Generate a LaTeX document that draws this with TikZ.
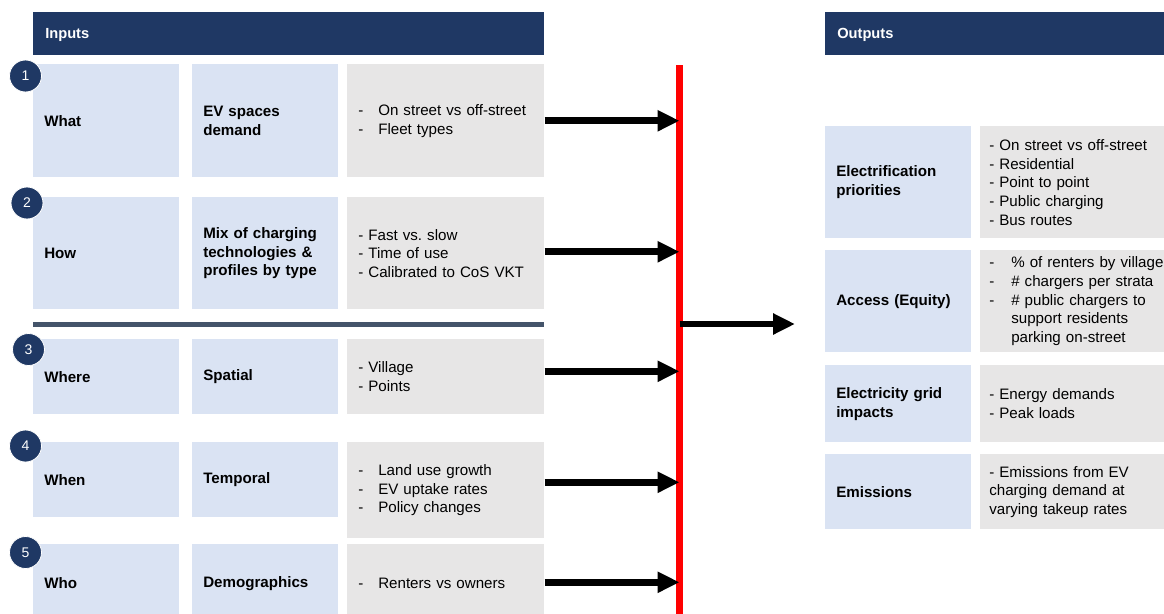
\documentclass[tikz,border=0pt]{standalone}
\usepackage{fontspec}
\setmainfont{Liberation Sans}
\usetikzlibrary{arrows.meta,calc}

\definecolor{navy}{RGB}{31,56,100}
\definecolor{paleblue}{RGB}{218,227,243}
\definecolor{palegray}{RGB}{231,230,230}
\definecolor{slate}{RGB}{68,84,106}

\newcommand{\tabdash}[1][15pt]{\makebox[#1][l]{-}}

\tikzset{
  cell/.style={anchor=north west, inner xsep=8.25pt, inner ysep=0pt, align=left,
    font=\fontsize{11.35}{14}\selectfont},
  bluecell/.style={cell, fill=paleblue, text width=93pt, font=\fontsize{11.35}{14}\selectfont\bfseries},
  graycell/.style={cell, fill=palegray, text width=131.25pt},
  outcell/.style={cell, fill=palegray, inner xsep=6.75pt, text width=135pt},
  header/.style={anchor=north west, fill=navy, text=white, inner xsep=9pt, inner ysep=0pt,
    minimum height=32.25pt, text depth=0pt, align=left, font=\fontsize{11}{13}\selectfont\bfseries},
  badge/.style={circle, fill=navy, draw=white, line width=0.6pt, text=white,
    minimum size=24pt, inner sep=0pt, font=\fontsize{10.5}{12}\selectfont},
  feed/.style={line width=5pt, -{Triangle[length=16.5pt,width=15pt]}},
  redbar/.style={draw=red, line width=5pt},
  sepbar/.style={draw=slate, line width=4pt}
}

\begin{document}
\begin{tikzpicture}[x=0.75pt,y=0.75pt,yscale=-1,xscale=1]
\useasboundingbox (0,0) rectangle (1164,614);
\clip (0,0) rectangle (1164,614);

% Headers
\node[header, text width=365.25pt] (inhead) at (33,12) {Inputs};
\node[header, text width=260pt] (outhead) at (825,12) {Outputs};

% Row 1
\node[bluecell, minimum height=84.75pt] (what) at (33,64) {What};
\node[bluecell, minimum height=84.75pt] (whatTopic) at (192,64) {EV spaces\\demand};
\node[graycell, minimum height=84.75pt] (whatList) at (347,64) {\tabdash On street vs off-street\\\tabdash Fleet types};
% Row 2
\node[bluecell, minimum height=84pt] (how) at (33,197) {How};
\node[bluecell, minimum height=84pt] (howTopic) at (192,197) {Mix of charging\\technologies \&\\profiles by type};
\node[graycell, minimum height=84pt] (howList) at (347,197) {- Fast vs.\ slow\\- Time of use\\- Calibrated to CoS VKT};

%Separator bar
\draw[sepbar] (33,324.5) -- (544,324.5);

% Row 3
\node[bluecell, minimum height=56.25pt] (where) at (33,339) {Where};
\node[bluecell, minimum height=56.25pt] (whereTopic) at (192,339) {Spatial};
\node[graycell, minimum height=56.25pt] (whereList) at (347,339) {- Village\\- Points};
% Row 4
\node[bluecell, minimum height=56.25pt] (when) at (33,442) {When};
\node[bluecell, minimum height=56.25pt] (whenTopic) at (192,442) {Temporal};
\node[graycell, minimum height=72pt] (whenList) at (347,442) {\tabdash Land use growth\\\tabdash EV uptake rates\\\tabdash Policy changes};
% Row 5
\node[bluecell, minimum height=58.5pt] (who) at (33,544) {Who};
\node[bluecell, minimum height=58.5pt] (whoTopic) at (192,544) {Demographics};
\node[graycell, minimum height=58.5pt] (whoList) at (347,544) {\tabdash Renters vs owners};

% Numbered badges
\node[badge] (n1) at (25.5,76) {1};
\node[badge] (n2) at (27,203) {2};
\node[badge] (n3) at (28.5,349.5) {3};
\node[badge] (n4) at (25.5,446) {4};
\node[badge] (n5) at (25.5,552.5) {5};

% Outputs
\node[bluecell, minimum height=84pt] (elec) at (825,126) {Electrification\\priorities};
\node[outcell, minimum height=84pt] (elecList) at (980,126) {- On street vs off-street\\- Residential\\- Point to point\\- Public charging\\- Bus routes};
\node[bluecell, minimum height=76.5pt] (access) at (825,250) {Access (Equity)};
\node[outcell, minimum height=76.5pt] (accessList) at (980,250) {\tabdash[16.5pt]\% of renters by village\\\tabdash[16.5pt]\# chargers per strata\\\tabdash[16.5pt]\# public chargers to\\\hspace*{16.5pt}support residents\\\hspace*{16.5pt}parking on-street};
\node[bluecell, minimum height=57.75pt] (grid) at (825,365) {Electricity grid\\impacts};
\node[outcell, minimum height=57.75pt] (gridList) at (980,365) {- Energy demands\\- Peak loads};
\node[bluecell, minimum height=56.25pt] (emis) at (825,454) {Emissions};
\node[outcell, minimum height=56.25pt] (emisList) at (980,454) {- Emissions from EV\\charging demand at\\varying takeup rates};

% Red collector line
\coordinate (bartop) at (679.5,65);
\coordinate (barbot) at (679.5,622);
\draw[redbar] (bartop) -- (barbot);

% Arrows
\draw[feed] (whatList.east) -- (whatList.east -| bartop);
\draw[feed] ($(howList.east)+(0,-1.5)$) -- ($(howList.east -| bartop)+(0,-1.5)$);
\draw[feed] ($(whereList.east)+(0,-5.5)$) -- ($(whereList.east -| bartop)+(0,-5.5)$);
\draw[feed] ($(whenList.east)+(0,-8)$) -- ($(whenList.east -| bartop)+(0,-8)$);
\draw[feed] ($(whoList.east)+(0,-1)$) -- ($(whoList.east -| bartop)+(0,-1)$);
\coordinate (hub) at (679.5,324);
\coordinate (outtip) at (795,324);
\draw[feed] (hub) -- (outtip);

\end{tikzpicture}
\end{document}
